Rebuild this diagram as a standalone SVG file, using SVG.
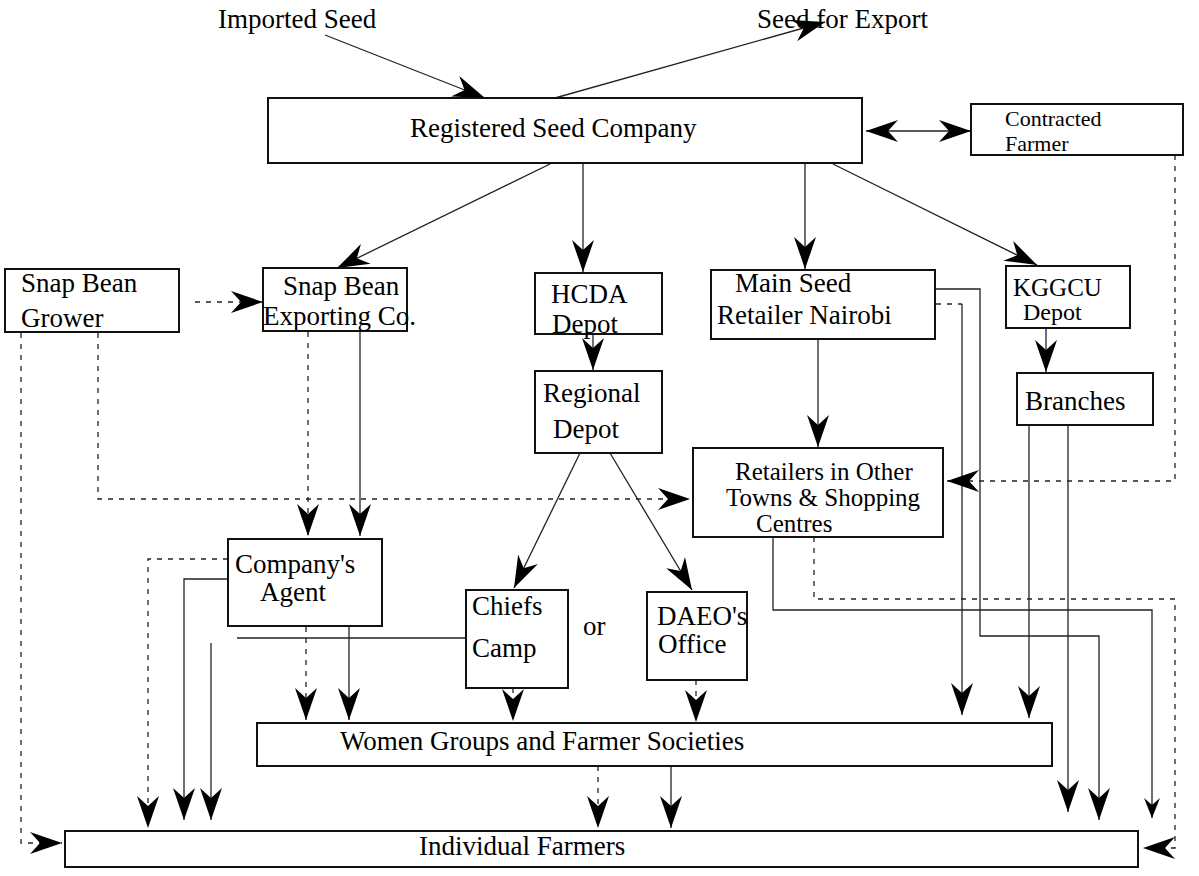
<svg xmlns="http://www.w3.org/2000/svg" width="1199" height="876" viewBox="0 0 1199 876">
<defs>
<style>
.box{fill:#fff;stroke:#111;stroke-width:2}
.t{font-family:"Liberation Serif","Times New Roman",serif;font-size:27px;fill:#000}
.s{font-size:24px}
.xs{font-size:22px}
.m{font-size:25px}
.c{fill:none;stroke:#222;stroke-width:1.3}
.d{fill:none;stroke:#222;stroke-width:1.3;stroke-dasharray:5 6}
.a{marker-end:url(#ah)}
</style>
<marker id="ah" viewBox="-34 -12 36 24" refX="0" refY="0" markerWidth="36" markerHeight="24" markerUnits="userSpaceOnUse" orient="auto"><path d="M0,0 L-32,-11 L-22,0 L-32,11 Z" fill="#000"/></marker>
<marker id="ahr" viewBox="-34 -12 36 24" refX="0" refY="0" markerWidth="36" markerHeight="24" markerUnits="userSpaceOnUse" orient="auto-start-reverse"><path d="M0,0 L-32,-11 L-22,0 L-32,11 Z" fill="#000"/></marker>
<marker id="ahs" viewBox="-22 -9 24 18" refX="0" refY="0" markerWidth="24" markerHeight="18" markerUnits="userSpaceOnUse" orient="auto"><path d="M0,0 L-20,-8 L-13,0 L-20,8 Z" fill="#000"/></marker>
</defs>
<rect width="1199" height="876" fill="#fff"/>

<g id="connectors">
<text class="t" x="218" y="28">Imported Seed</text>
<text class="t" x="757" y="28">Seed for Export</text>
<line class="c a" x1="325" y1="35" x2="485" y2="98"/>
<line class="c a" x1="555" y1="98" x2="825" y2="22"/>
<line class="c" x1="866" y1="131" x2="971" y2="131" marker-start="url(#ahr)" marker-end="url(#ahr)"/>
<line class="c a" x1="550" y1="164" x2="337" y2="268"/>
<line class="c a" x1="583" y1="164" x2="583" y2="272"/>
<line class="c a" x1="805" y1="164" x2="805" y2="269"/>
<line class="c a" x1="833" y1="164" x2="1037" y2="265"/>
<line class="d a" x1="195" y1="302" x2="263" y2="302"/>
<path class="d a" d="M21,333 V843 H62"/>
<path class="d a" d="M98,333 V499 H690"/>
<line class="d a" x1="308" y1="332" x2="308" y2="536"/>
<line class="c a" x1="360" y1="332" x2="360" y2="536"/>
<line class="c a" x1="593" y1="334" x2="593" y2="370"/>
<line class="c a" x1="580" y1="453" x2="514" y2="588"/>
<line class="c a" x1="610" y1="453" x2="692" y2="590"/>
<line class="c a" x1="818" y1="339" x2="818" y2="447"/>
<path class="c a" d="M936,289 H980 V636 H1099 V820"/>
<path class="d" d="M936,304 H962"/>
<line class="c a" x1="962" y1="304" x2="962" y2="715"/>
<line class="c a" x1="1046" y1="328" x2="1046" y2="372"/>
<line class="c a" x1="1029" y1="425" x2="1029" y2="718"/>
<line class="c a" x1="1068" y1="425" x2="1068" y2="812"/>
<path class="d a" d="M1175,155 V481 H947"/>
<path class="c" d="M773,537 V610 H1152 V818" marker-end="url(#ahs)"/>
<path class="d a" d="M814,537 V599 H1175 V848 H1143"/>
<path class="d a" d="M228,559 H148 V828"/>
<path class="c a" d="M228,579 H184 V820"/>
<line class="c" x1="466" y1="638" x2="237" y2="638"/>
<line class="c a" x1="211" y1="643" x2="211" y2="820"/>
<line class="d a" x1="306" y1="627" x2="306" y2="720"/>
<line class="c a" x1="349" y1="627" x2="349" y2="720"/>
<line class="d a" x1="513" y1="688" x2="513" y2="721"/>
<line class="d a" x1="696" y1="680" x2="696" y2="722"/>
<line class="d a" x1="598" y1="766" x2="598" y2="828"/>
<line class="c a" x1="671" y1="766" x2="671" y2="828"/>
</g>

<g id="rsc"><rect class="box" x="268" y="98" width="594" height="65"/><text class="t" x="410" y="137">Registered Seed Company</text></g>
<g id="contracted"><rect class="box" x="971" y="104" width="212" height="51"/><text class="t xs" x="1005" y="126">Contracted</text><text class="t xs" x="1005" y="151">Farmer</text></g>
<g id="grower"><rect class="box" x="5" y="269" width="174" height="63"/><text class="t" x="21" y="292">Snap Bean</text><text class="t" x="21" y="327">Grower</text></g>
<g id="exporting"><rect class="box" x="263" y="268" width="144" height="63"/><text class="t" x="283" y="295">Snap Bean</text><text class="t" x="263" y="325">Exporting Co.</text></g>
<g id="hcda"><rect class="box" x="535" y="273" width="127" height="61"/><text class="t" x="551" y="303">HCDA</text><text class="t" x="552" y="333">Depot</text></g>
<g id="mainseed"><rect class="box" x="711" y="270" width="224" height="69"/><text class="t" x="735" y="292">Main Seed</text><text class="t" x="717" y="324">Retailer Nairobi</text></g>
<g id="kggcu"><rect class="box" x="1006" y="266" width="124" height="62"/><text class="t m" x="1013" y="296">KGGCU</text><text class="t s" x="1023" y="320">Depot</text></g>
<g id="regional"><rect class="box" x="535" y="371" width="127" height="82"/><text class="t" x="543" y="402">Regional</text><text class="t" x="553" y="438">Depot</text></g>
<g id="branches"><rect class="box" x="1017" y="373" width="136" height="52"/><text class="t" x="1025" y="410">Branches</text></g>
<g id="retailers"><rect class="box" x="693" y="448" width="250" height="89"/><text class="t m" x="735" y="480">Retailers in Other</text><text class="t m" x="726" y="506">Towns &amp; Shopping</text><text class="t m" x="756" y="532">Centres</text></g>
<g id="agent"><rect class="box" x="228" y="539" width="154" height="87"/><text class="t" x="235" y="573">Company's</text><text class="t" x="260" y="601">Agent</text></g>
<g id="chiefs"><rect class="box" x="466" y="590" width="102" height="98"/><text class="t" x="472" y="615">Chiefs</text><text class="t" x="472" y="657">Camp</text></g>
<text class="t" x="583" y="635">or</text>
<g id="daeo"><rect class="box" x="647" y="592" width="100" height="88"/><text class="t" x="657" y="625">DAEO's</text><text class="t" x="658" y="653">Office</text></g>
<g id="women"><rect class="box" x="257" y="723" width="795" height="43"/><text class="t" x="340" y="750">Women Groups and Farmer Societies</text></g>
<g id="individual"><rect class="box" x="65" y="831" width="1073" height="36"/><text class="t" x="419" y="855">Individual Farmers</text></g>
</svg>
